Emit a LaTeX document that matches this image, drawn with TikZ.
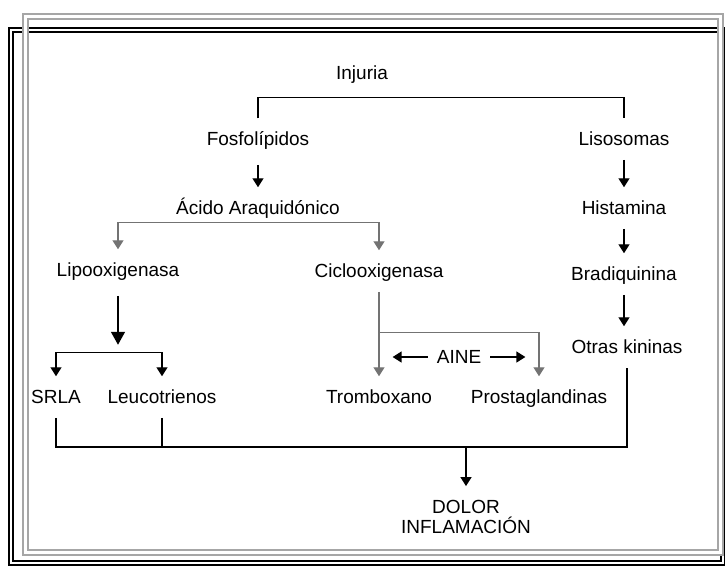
\documentclass[tikz,border=0pt]{standalone}
\usepackage{fontspec}
\setmainfont{Liberation Sans}
\usetikzlibrary{arrows.meta,positioning,calc}
\tikzstyle{item}=[font=\fontsize{19}{20}\selectfont, inner sep=0pt, text height=13.5pt, text depth=0pt, outer ysep=14pt]
\tikzstyle{l1}=[line width=1.4, draw=black]
\tikzstyle{l2}=[line width=1.3, draw=black!55]
\tikzstyle{ar}=[-{Triangle[length=9pt,width=11pt]}]
\tikzstyle{arar}=[{Triangle[length=9pt,width=11pt]}-{Triangle[length=9pt,width=11pt]}]
\tikzstyle{bigar}=[-{Triangle[length=13pt,width=14pt]}]

\begin{document}
\begin{tikzpicture}[x=1pt, y=-1pt]
    \useasboundingbox (0,0) rectangle (725,566);
    % frames
    \draw[black, line width=1.6, double, double distance=2.5pt] (11,30) rectangle (723,563);
    \draw[gray!70, line width=2, double, double distance=3pt] (25,16) rectangle (720,552);

    \node (inj) [item] at (362,73) {Injuria};
    \node (fos) [item] at (258,139) {Fosfolípidos};
    \node (lis) [item] at (624,139) {Lisosomas};
    \node (aci) [item] at (258,208) {Ácido Araquidónico};
    \node (his) [item] at (624,208) {Histamina};
    \node (lip) [item] at (118,270) {Lipooxigenasa};
    \node (cic) [item] at (379,271) {Ciclooxigenasa};
    \node (bra) [item] at (624,274) {Bradiquinina};
    \node (otr) [item] at (627,347) {Otras kininas};
    \node (aine) [item, inner xsep=9pt] at (459,357) {AINE};
    \node (srl) [item] at (56,397) {SRLA};
    \node (leu) [item] at (162,397) {Leucotrienos};
    \node (tro) [item] at (379,397) {Tromboxano};
    \node (pro) [item] at (539,397) {Prostaglandinas};
    \node (dol) [font=\fontsize{19}{20}\selectfont, inner sep=0pt, align=center] at (466,517) {DOLOR\\INFLAMACIÓN};

    % left branch
    \draw[l1] (fos.north) -- ++(0,-21) -| (lis.north);
    \draw[l1, ar, shorten <=5pt] (fos.south) -- (aci.north);
    \draw[l2, arar] (lip.north) -- ++(0,-27) -| (cic.north);
    \draw[l1, bigar, line width=1.6, shorten <=5pt] (lip.south) -- ++(0,54);
    \draw[l1, arar] (srl.north) -- ++(0,-24) -| (leu.north);
    \draw[l2, ar] (cic.south) -- (tro.north);
    \draw[l2, ar] (cic.south) ++(0,41) -| (pro.north);
    \draw[l1, ar] (aine.west) -- ++(-35,0);
    \draw[l1, ar] (aine.east) -- ++(35,0);

    % right branch
    \draw[l1, ar] (lis.south) -- (his.north);
    \draw[l1, ar] (his.south) -- (bra.north);
    \draw[l1, ar] (bra.south) -- (bra.south |- otr.north);

    % bottom
    \coordinate (base) at (466,447);
    \draw[l1] (srl.south) |- (base) -| (otr.south);
    \draw[l1] (leu.south) -- (leu.south |- base);
    \draw[l1, ar, shorten >=14pt] (base) -- (dol.north);
\end{tikzpicture}
\end{document}
